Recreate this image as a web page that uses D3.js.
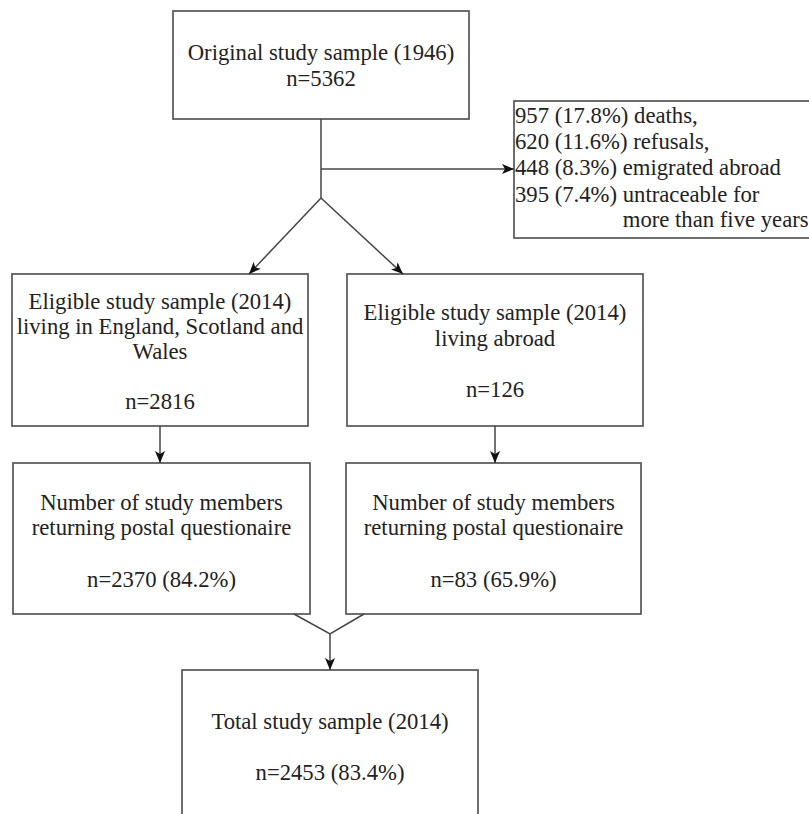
<!DOCTYPE html>
<html>
<head>
<meta charset="utf-8">
<script src="https://cdn.jsdelivr.net/npm/d3@7"></script>
<style>
  body { margin: 0; background: #fff; }
  svg { display: block; }
  .box { fill: #fff; stroke: #555; stroke-width: 1.7; }
  .link { fill: none; stroke: #444; stroke-width: 1.5; }
  .lbl { font-family: "Liberation Serif", "Times New Roman", serif; font-size: 22.7px; fill: #222; }
</style>
</head>
<body>
<svg id="chart"></svg>
<script>
var width = 809;
var height = 814;

// flow chart content
var boxTitles = [
  ['Original study sample (1946)'],
  ['Eligible study sample (2014)', 'living in England, Scotland and', 'Wales'],
  ['Eligible study sample (2014)', 'living abroad'],
  ['Number of study members', 'returning postal questionaire'],
  ['Number of study members', 'returning postal questionaire'],
  ['Total study sample (2014)']
];
var boxCounts = [5362, 2816, 126, 2370, 83, 2453];
var boxPercents = [null, null, null, '84.2%', '65.9%', '83.4%'];

var lossCounts = [957, 620, 448, 395];
var lossPercents = ['17.8%', '11.6%', '8.3%', '7.4%'];
var lossReasons = ['deaths,', 'refusals,', 'emigrated abroad', 'untraceable for'];
var lossExtra = 'more than five years';

// layout of the boxes (x0, y0, x1, y1) and text baselines
var layout = [
  { x0: 173, y0: 11, x1: 469, y1: 119, lines: [60, 86] },
  { x0: 12, y0: 274, x1: 308, y1: 426, lines: [309, 334, 359, 409] },
  { x0: 347, y0: 274, x1: 643, y1: 426, lines: [320, 346, 397] },
  { x0: 13, y0: 463, x1: 310, y1: 614, lines: [510, 535, 587] },
  { x0: 346, y0: 463, x1: 641, y1: 614, lines: [510, 535, 587] },
  { x0: 182, y0: 670, x1: 478, y1: 830, lines: [729, 780] }
];
var lossBox = { x0: 514, y0: 101, x1: 830, y1: 238, lines: [123, 149, 175, 202, 227] };

var svg = d3.select('#chart').attr('width', width).attr('height', height);

svg.append('defs').append('marker')
  .attr('id', 'arrow')
  .attr('viewBox', '0 0 12 10')
  .attr('refX', 12)
  .attr('refY', 5)
  .attr('markerWidth', 12)
  .attr('markerHeight', 10)
  .attr('markerUnits', 'userSpaceOnUse')
  .attr('orient', 'auto')
  .append('path')
  .attr('d', 'M0,0 L12,5 L0,10 L3,5 Z')
  .attr('fill', '#111');

// boxes
var boxes = svg.selectAll('g.node')
  .data(layout)
  .enter()
  .append('g')
  .attr('class', 'node');

boxes.append('rect')
  .attr('class', 'box')
  .attr('x', function(d) { return d.x0; })
  .attr('y', function(d) { return d.y0; })
  .attr('width', function(d) { return d.x1 - d.x0; })
  .attr('height', function(d) { return d.y1 - d.y0; });

boxes.each(function(d, i) {
  var txt = boxTitles[i].slice();
  var nLine = 'n=' + boxCounts[i] + (boxPercents[i] ? ' (' + boxPercents[i] + ')' : '');
  txt.push(nLine);
  var cx = (d.x0 + d.x1) / 2;
  d3.select(this).selectAll('text')
    .data(txt)
    .enter()
    .append('text')
    .attr('class', 'lbl')
    .attr('text-anchor', 'middle')
    .attr('x', cx)
    .attr('y', function(t, j) { return d.lines[j]; })
    .text(function(t) { return t; });
});

// loss box
var lg = svg.append('g');
lg.append('rect')
  .attr('class', 'box')
  .attr('x', lossBox.x0)
  .attr('y', lossBox.y0)
  .attr('width', lossBox.x1 - lossBox.x0)
  .attr('height', lossBox.y1 - lossBox.y0);

var lossLines = lossCounts.map(function(c, i) {
  return c + ' (' + lossPercents[i] + ') ' + lossReasons[i];
});
lg.selectAll('text.loss')
  .data(lossLines)
  .enter()
  .append('text')
  .attr('class', 'lbl loss')
  .attr('x', lossBox.x0 + 1)
  .attr('y', function(t, j) { return lossBox.lines[j]; })
  .text(function(t) { return t; });

// indent the last line under "untraceable"
var probe = lg.append('text').attr('class', 'lbl').style('white-space', 'pre')
  .text(lossCounts[3] + ' (' + lossPercents[3] + ') ');
var indent = probe.node().getComputedTextLength();
probe.remove();
lg.append('text')
  .attr('class', 'lbl')
  .attr('x', lossBox.x0 + 1 + indent)
  .attr('y', lossBox.lines[4])
  .text(lossExtra);

// connectors
var B0 = layout[0], L1 = layout[1], R1 = layout[2], L2 = layout[3], R2 = layout[4], B = layout[5];
var stemX = (B0.x0 + B0.x1) / 2;
var branchY = 169;
var splitY = 198;
var line = d3.line();

svg.append('path').attr('class', 'link')
  .attr('d', line([[stemX, B0.y1], [stemX, splitY]]));
svg.append('path').attr('class', 'link')
  .attr('d', line([[stemX, branchY], [lossBox.x0, branchY]]))
  .attr('marker-end', 'url(#arrow)');
svg.append('path').attr('class', 'link')
  .attr('d', line([[stemX, splitY], [stemX - 72, L1.y0]]))
  .attr('marker-end', 'url(#arrow)');
svg.append('path').attr('class', 'link')
  .attr('d', line([[stemX, splitY], [stemX + 82, R1.y0]]))
  .attr('marker-end', 'url(#arrow)');

var lcx = (L1.x0 + L1.x1) / 2, rcx = (R1.x0 + R1.x1) / 2;
svg.append('path').attr('class', 'link')
  .attr('d', line([[lcx, L1.y1], [lcx, L2.y0]]))
  .attr('marker-end', 'url(#arrow)');
svg.append('path').attr('class', 'link')
  .attr('d', line([[rcx, R1.y1], [rcx, R2.y0]]))
  .attr('marker-end', 'url(#arrow)');

var mergeX = (B.x0 + B.x1) / 2, mergeY = 634;
svg.append('path').attr('class', 'link')
  .attr('d', line([[294, L2.y1], [mergeX, mergeY], [364, R2.y1]]));
svg.append('path').attr('class', 'link')
  .attr('d', line([[mergeX, mergeY], [mergeX, B.y0]]))
  .attr('marker-end', 'url(#arrow)');
</script>
</body>
</html>
